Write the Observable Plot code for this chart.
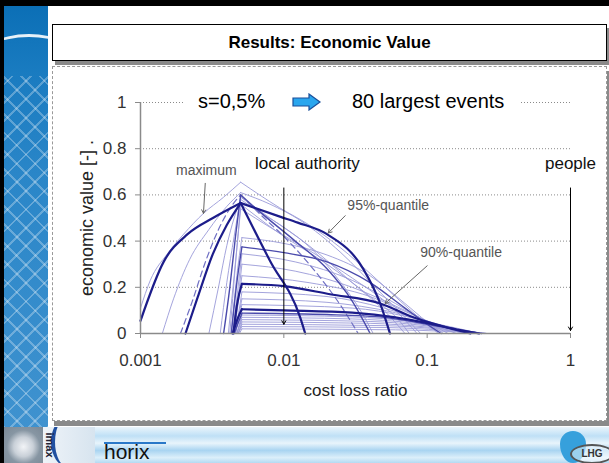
<!DOCTYPE html>
<html><head><meta charset="utf-8">
<script src="https://cdn.jsdelivr.net/npm/d3@7"></script>
<script src="https://cdn.jsdelivr.net/npm/@observablehq/plot@0.6"></script>
<style>
html,body{margin:0;padding:0;width:609px;height:463px;overflow:hidden;background:#000;font-family:"Liberation Sans",Arial,sans-serif;}
.abs{position:absolute;}
#white{left:4px;top:6px;width:605px;height:422px;background:#fff;}
#leftstrip{left:4px;top:6px;width:44px;height:422px;overflow:hidden;
 background:
  repeating-linear-gradient(45deg, rgba(255,255,255,0.28) 0 2px, transparent 2px 13px),
  repeating-linear-gradient(-45deg, rgba(255,255,255,0.28) 0 2px, transparent 2px 13px),
  linear-gradient(#0f74bb, #2a86c8 40%, #3f92cf);}
#lefttop{left:0;top:0;width:44px;height:70px;background:linear-gradient(#0b6fb6,#1a7cc1);}
#swoosh{left:-30px;top:28px;width:110px;height:60px;border-top:3px solid rgba(255,255,255,0.9);border-radius:50%;}
#titlebox{left:52px;top:24px;width:553px;height:35px;background:#fff;border:1px solid #000;box-shadow:3px 4px 0 #8a8a8a;
 font-weight:bold;font-size:17px;text-align:center;line-height:35px;color:#000;}
#chartbox{left:52px;top:66px;width:553px;height:353px;background:#fff;border:1px dashed #999;box-shadow:2px 5px 0 #8a8a8a;}
#plotwrap{left:53px;top:66px;width:553px;height:354px;}
#topnote{left:184px;top:89px;width:336px;height:26px;background:#fff;font-size:20px;color:#000;}
#topnote span{position:absolute;top:1px;white-space:nowrap;}
#bottom{left:4px;top:427px;width:605px;height:36px;overflow:hidden;
 background:linear-gradient(#eaf5fc, #bfe0f6 25%, #e8f4fb 45%, #a9d4f1 65%, #dceffa 85%, #b4daf3);}
#graysq{left:0;top:0;width:39px;height:36px;background:radial-gradient(circle at 50% 55%, #f2f4f7 0, #c9d0d8 35%, #8796a3 60%, #7a8895 100%);}
#imax{left:39px;top:0;width:52px;height:36px;background:linear-gradient(90deg,#eef3f8,#d7e4ef);}
#imaxtxt{left:-6px;top:12px;transform:rotate(90deg);font-size:11px;font-weight:bold;color:#223;}
#imaxcurve{left:8px;top:-10px;width:30px;height:50px;border-left:4px solid #2050a0;border-radius:50%;}
#horixline{left:100px;top:15px;width:62px;height:2px;background:#2a78c8;}
#horix{left:100px;top:14px;font-size:21px;line-height:22px;color:#111;}
#drop{left:556px;top:4px;width:26px;height:32px;background:#36a0dc;border-radius:50% 50% 50% 50% / 40% 40% 60% 60%;}
#lhg{left:566px;top:17px;width:40px;height:16px;border:2px solid #555;border-radius:50%;font-size:10px;font-weight:bold;color:#333;text-align:center;line-height:16px;background:rgba(255,255,255,0.5);}
</style>
</head>
<body>
<div id="white" class="abs"></div>
<div id="leftstrip" class="abs"><div id="lefttop" class="abs"></div><div id="swoosh" class="abs"></div></div>
<div id="titlebox" class="abs">Results: Economic Value</div>
<div id="chartbox" class="abs"></div>
<div id="plotwrap" class="abs"></div>
<div id="topnote" class="abs">
  <span style="left:14px">s=0,5%</span>
  <svg style="position:absolute;left:108px;top:4px" width="30" height="18" viewBox="0 0 30 18">
    <polygon points="1,5 17,5 17,1 28,9 17,17 17,13 1,13" fill="#2aa6ee" stroke="#1a4f9a" stroke-width="1.2"/>
  </svg>
  <span style="left:168px">80 largest events</span>
</div>
<div id="bottom" class="abs">
  <div id="graysq" class="abs"></div>
  <div id="imax" class="abs"><div id="imaxcurve" class="abs"></div><div id="imaxtxt" class="abs">imax</div></div>
  <div id="horixline" class="abs"></div>
  <div id="horix" class="abs">horix</div>
  <div id="drop" class="abs"></div>
  <div id="lhg" class="abs">LHG</div>
</div>
<script>
// ---- data ----
const xTicks = [0.001, 0.01, 0.1, 1];
const xTickLabels = ["0.001", "0.01", "0.1", "1"];
const yTicks = [0, 0.2, 0.4, 0.6, 0.8, 1];
const yTickLabels = ["0", "0.2", "0.4", "0.6", "0.8", "1"];
const gridY = [0.2, 0.4, 0.6, 0.8, 1];

const thickLines = [
  [[0.001,0.055],[0.00145,0.31],[0.00213,0.43],[0.0032,0.5],[0.005,0.565],[0.0095,0.505],[0.0125,0.48],[0.02,0.43],[0.0358,0.28],[0.047,0.13],[0.055,0]],
  [[0.00206,0],[0.0025,0.155],[0.0032,0.345],[0.004,0.47],[0.005,0.565],[0.008,0.315],[0.013,0.07],[0.0141,0]],
  [[0.00445,0],[0.0047,0.12],[0.0051,0.215],[0.01,0.205],[0.021,0.17],[0.047,0.13],[0.08,0.07],[0.14,0.025],[0.2,0]],
  [[0.0044,0],[0.0048,0.07],[0.0051,0.105],[0.01,0.1],[0.03,0.09],[0.06,0.07],[0.1,0.045],[0.17,0.015],[0.23,0]]
];
const mediumLines = [
  [[0.0043,0],[0.0047,0.22],[0.0051,0.375],[0.01,0.35],[0.02,0.31],[0.04,0.22],[0.07,0.11],[0.1,0.04],[0.125,0]],
  [[0.0045,0],[0.0051,0.088],[0.02,0.082],[0.05,0.07],[0.1,0.04],[0.18,0.012],[0.24,0]],
  [[0.0038,0],[0.0042,0.2],[0.0046,0.42],[0.005,0.6],[0.007,0.52],[0.012,0.4],[0.02,0.28],[0.03,0.14],[0.04,0]]
];
const lightLines = [
  [[0.001,0.11],[0.00117,0.23],[0.00154,0.345],[0.002,0.43],[0.00275,0.52],[0.0038,0.59],[0.005,0.655],[0.0093,0.545],[0.015,0.47],[0.025,0.37],[0.04,0.26],[0.065,0.14],[0.095,0.05],[0.12,0]],
  [[0.00142,0],[0.0017,0.15],[0.0022,0.32],[0.003,0.45],[0.004,0.55],[0.005,0.61],[0.008,0.56],[0.013,0.49],[0.025,0.35],[0.045,0.19],[0.07,0.07],[0.09,0]],
  [[0.003,0],[0.0035,0.2],[0.004,0.38],[0.0045,0.5],[0.005,0.58],[0.007,0.52],[0.01,0.46],[0.016,0.36],[0.025,0.22],[0.035,0.09],[0.042,0]],
  [[0.0036,0],[0.004,0.22],[0.0045,0.42],[0.005,0.59],[0.008,0.5],[0.015,0.38],[0.03,0.22],[0.05,0.1],[0.07,0]],
  [[0.0041,0],[0.0045,0.25],[0.005,0.54],[0.008,0.46],[0.015,0.36],[0.03,0.24],[0.06,0.1],[0.085,0]],
  [[0.0042,0],[0.0046,0.3],[0.005,0.56],[0.009,0.44],[0.02,0.3],[0.04,0.16],[0.065,0.05],[0.075,0]],
  [[0.0043,0],[0.0047,0.25],[0.0051,0.415],[0.01,0.39],[0.02,0.34],[0.04,0.25],[0.07,0.13],[0.1,0.05],[0.13,0]],
  [[0.0044,0],[0.0051,0.345],[0.012,0.31],[0.03,0.23],[0.06,0.13],[0.1,0.05],[0.14,0]],
  [[0.0045,0],[0.0051,0.3],[0.012,0.27],[0.03,0.2],[0.07,0.1],[0.12,0.03],[0.16,0]],
  [[0.0045,0],[0.0051,0.25],[0.015,0.22],[0.04,0.16],[0.08,0.08],[0.14,0.02],[0.18,0]],
  [[0.0046,0],[0.0051,0.18],[0.02,0.16],[0.05,0.11],[0.1,0.05],[0.16,0.01],[0.2,0]],
  [[0.0046,0],[0.0051,0.15],[0.02,0.135],[0.06,0.09],[0.12,0.04],[0.2,0.01],[0.23,0]],
  [[0.0046,0],[0.0051,0.125],[0.03,0.11],[0.07,0.075],[0.13,0.03],[0.22,0]],
  [[0.0047,0],[0.0051,0.08],[0.03,0.072],[0.08,0.05],[0.15,0.02],[0.24,0]],
  [[0.0047,0],[0.0051,0.07],[0.03,0.063],[0.08,0.045],[0.16,0.015],[0.25,0]],
  [[0.0047,0],[0.0051,0.06],[0.04,0.052],[0.1,0.033],[0.18,0.01],[0.25,0]],
  [[0.0048,0],[0.0051,0.05],[0.04,0.044],[0.1,0.028],[0.2,0.008],[0.26,0]],
  [[0.0048,0],[0.0051,0.04],[0.05,0.034],[0.12,0.02],[0.26,0]],
  [[0.0048,0],[0.0051,0.03],[0.05,0.026],[0.13,0.014],[0.26,0]],
  [[0.0049,0],[0.0051,0.02],[0.06,0.016],[0.26,0]]
];
const dashedLines = [
  [[0.0019,0],[0.0023,0.14],[0.0028,0.3],[0.0035,0.45],[0.0043,0.55],[0.005,0.6],[0.007,0.51],[0.01,0.42],[0.016,0.28],[0.025,0.12],[0.033,0]]
];

const noteLabels = ["maximum", "local authority", "people", "95%-quantile", "90%-quantile"];
const noteX = [0.00288, 0.0146, 1, 0.0535, 0.1725];
const noteY = [0.706, 0.736, 0.736, 0.554, 0.35];
const noteColor = ["#555", "#111", "#111", "#555", "#555"];
const noteSize = [14, 17, 17, 14, 14];

const arrowX1 = [0.00283, 0.0268, 0.1, 0.01, 1];
const arrowY1 = [0.65, 0.51, 0.293, 0.63, 0.63];
const arrowX2 = [0.00275, 0.0204, 0.0509, 0.01, 1];
const arrowY2 = [0.52, 0.435, 0.13, 0.04, 0.013];
const arrowColor = ["#666", "#666", "#666", "#000", "#000"];

// ---- build tables (split each curve at its peak so the kink stays sharp) ----
function toRows(lines, prefix) {
  const rows = [];
  lines.forEach((pts, i) => {
    let k = 0;
    pts.forEach((p, j) => { if (p[1] > pts[k][1]) k = j; });
    pts.slice(0, k + 1).forEach(([x, y]) => rows.push({id: prefix + i + "L", x, y}));
    pts.slice(k).forEach(([x, y]) => rows.push({id: prefix + i + "R", x, y}));
  });
  return rows;
}
const lightRows = toRows(lightLines, "l");
const dashedRows = toRows(dashedLines, "d");
const mediumRows = toRows(mediumLines, "m");
const thickRows = toRows(thickLines, "t");
const notes = noteLabels.map((t, i) => ({t, x: noteX[i], y: noteY[i], c: noteColor[i], s: noteSize[i]}));
const arrows = arrowX1.map((x1, i) => ({x1, y1: arrowY1[i], x2: arrowX2[i], y2: arrowY2[i], c: arrowColor[i]}));

const chart = Plot.plot({
  width: 553,
  height: 354,
  marginLeft: 87,
  marginRight: 36,
  marginTop: 36,
  marginBottom: 87,
  style: {fontFamily: "'Liberation Sans', Arial, sans-serif", fontSize: "17px", background: "transparent", overflow: "visible", color: "#333"},
  x: {type: "log", domain: [0.001, 1]},
  y: {domain: [0, 1]},
  marks: [
    Plot.ruleY(gridY, {x1: 0.001, x2: 1, stroke: "#8a8a8a", strokeDasharray: "1,2", strokeWidth: 1}),
    Plot.line(lightRows, {x: "x", y: "y", z: "id", stroke: "#9a9ad8", strokeWidth: 1, strokeOpacity: 0.9, curve: "monotone-x"}),
    Plot.line(dashedRows, {x: "x", y: "y", z: "id", stroke: "#7070c4", strokeWidth: 1.2, strokeDasharray: "6,4", curve: "monotone-x"}),
    Plot.line(mediumRows, {x: "x", y: "y", z: "id", stroke: "#4a4aac", strokeWidth: 1.4, curve: "monotone-x"}),
    Plot.line(thickRows, {x: "x", y: "y", z: "id", stroke: "#1c1c8a", strokeWidth: 2.2, curve: "monotone-x"}),
    Plot.ruleX([0.001], {y1: 0, y2: 1, stroke: "#8a8a8a", strokeWidth: 1.5}),
    Plot.ruleY([0], {x1: 0.001, x2: 1, stroke: "#8a8a8a", strokeWidth: 1.5}),
    Plot.axisX({ticks: xTicks, tickFormat: (d) => xTickLabels[xTicks.indexOf(d)], tickSize: 5, tickPadding: 15, fontSize: 17, stroke: "#8a8a8a", fill: "#333", label: null}),
    Plot.axisY({ticks: yTicks, tickFormat: (d) => yTickLabels[yTicks.indexOf(d)], tickSize: 5, tickPadding: 9, fontSize: 17, stroke: "#8a8a8a", fill: "#333", label: null}),
    Plot.text(["cost loss ratio"], {frameAnchor: "bottom", dy: 57, text: (d) => d, fontSize: 17, fill: "#222", lineAnchor: "middle"}),
    Plot.text(["economic value [-] ."], {frameAnchor: "left", dx: -53, rotate: -90, text: (d) => d, fontSize: 18, fill: "#222", textAnchor: "middle", lineAnchor: "middle"}),
    Plot.arrow(arrows, {x1: "x1", y1: "y1", x2: "x2", y2: "y2", stroke: "c", strokeWidth: 1, headLength: 6}),
    Plot.text(notes, {x: "x", y: "y", text: "t", fill: "c", fontSize: "s", lineAnchor: "middle"})
  ]
});
document.getElementById("plotwrap").appendChild(chart);
</script>
</body></html>
